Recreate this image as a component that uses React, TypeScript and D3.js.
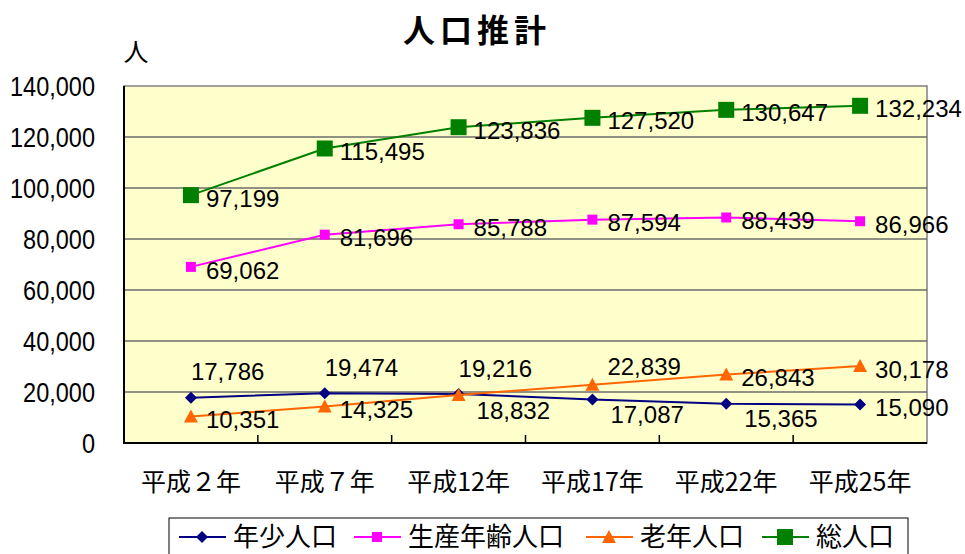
import React, { useRef, useEffect } from 'react';
import * as d3 from 'd3';

const categories = ['平成２年', '平成７年', '平成12年', '平成17年', '平成22年', '平成25年'];
const youth = [17786, 19474, 19216, 17087, 15365, 15090];
const working = [69062, 81696, 85788, 87594, 88439, 86966];
const elderly = [10351, 14325, 18832, 22839, 26843, 30178];
const total = [97199, 115495, 123836, 127520, 130647, 132234];
const yTicks = [0, 20000, 40000, 60000, 80000, 100000, 120000, 140000];

// label placement per point: r = right, a = above, b = below right, u = up right
const youthPlace = ['a', 'a', 'a', 'b', 'b', 'r'];
const elderlyPlace = ['r', 'r', 'b', 'u', 'r', 'r'];

const series = [
  { name: '年少人口', values: youth, color: '#000080', marker: 'diamond', place: youthPlace },
  { name: '生産年齢人口', values: working, color: '#FF00FF', marker: 'square', place: null },
  { name: '老年人口', values: elderly, color: '#FF6600', marker: 'triangle', place: elderlyPlace },
  { name: '総人口', values: total, color: '#008000', marker: 'bigsquare', place: null },
];

const NUM_FONT = '"Liberation Sans", Arial, sans-serif';
const JP_FONT = '"Noto Sans CJK JP", "Noto Sans", sans-serif';

function drawMarker(g, type, x, y, color) {
  if (type === 'diamond') {
    g.append('path')
      .attr('d', `M${x},${y - 6}L${x + 6},${y}L${x},${y + 6}L${x - 6},${y}Z`)
      .attr('fill', color);
  } else if (type === 'square') {
    g.append('rect').attr('x', x - 5).attr('y', y - 5).attr('width', 10).attr('height', 10).attr('fill', color);
  } else if (type === 'bigsquare') {
    g.append('rect').attr('x', x - 8).attr('y', y - 8).attr('width', 16).attr('height', 16).attr('fill', color);
  } else if (type === 'triangle') {
    g.append('path')
      .attr('d', `M${x},${y - 7}L${x + 7},${y + 6}L${x - 7},${y + 6}Z`)
      .attr('fill', color);
  }
}

// number text, optionally squeezed horizontally (axis labels use a narrow face)
function numText(g, x, y, str, size, anchor, sx) {
  g.append('text')
    .attr('transform', `translate(${x},${y}) scale(${sx},1)`)
    .attr('dy', '0.36em')
    .attr('text-anchor', anchor)
    .attr('font-family', NUM_FONT)
    .attr('font-size', size)
    .attr('fill', '#000')
    .text(str);
}

const offsets = {
  r: [15, 3],
  a: [0, -26],
  b: [18, 15],
  u: [15, -18],
};

function PopulationChart() {
  const svgRef = useRef(null);

  useEffect(() => {
    const svg = d3.select(svgRef.current);
    svg.selectAll('*').remove();

    const left = 124;
    const right = 927;
    const top = 86;
    const bottom = 443;

    const xScale = d3.scaleBand().domain(categories).range([left, right]);
    const yScale = d3.scaleLinear().domain([0, 140000]).range([bottom, top]);
    const cx = (c) => xScale(c) + xScale.bandwidth() / 2;
    const fmt = d3.format(',');

    // plot background
    svg.append('rect')
      .attr('x', left).attr('y', top)
      .attr('width', right - left).attr('height', bottom - top)
      .attr('fill', '#FFFFCC')
      .attr('stroke', '#808080')
      .attr('stroke-width', 1.5);

    // grid lines
    svg.append('g')
      .selectAll('line')
      .data(yTicks.filter((t) => t > 0 && t < 140000))
      .enter()
      .append('line')
      .attr('x1', left).attr('x2', right)
      .attr('y1', (d) => yScale(d)).attr('y2', (d) => yScale(d))
      .attr('stroke', '#6b6b6b')
      .attr('stroke-width', 1.5);

    // axes lines
    svg.append('line').attr('x1', left).attr('x2', left).attr('y1', top).attr('y2', bottom + 1)
      .attr('stroke', '#000').attr('stroke-width', 2);
    svg.append('line').attr('x1', left).attr('x2', right).attr('y1', bottom).attr('y2', bottom)
      .attr('stroke', '#000').attr('stroke-width', 2);

    // x ticks between categories (inside)
    const bounds = categories.slice(1).map((c) => xScale(c));
    svg.append('g')
      .selectAll('line')
      .data(bounds)
      .enter()
      .append('line')
      .attr('x1', (d) => d).attr('x2', (d) => d)
      .attr('y1', bottom).attr('y2', bottom - 8)
      .attr('stroke', '#000').attr('stroke-width', 1.5);

    // y tick labels
    const yLab = svg.append('g');
    yTicks.forEach((t) => numText(yLab, 95, yScale(t), fmt(t), 28, 'end', 0.84));

    // x labels
    svg.append('g')
      .selectAll('text')
      .data(categories)
      .enter()
      .append('text')
      .attr('x', (d) => cx(d))
      .attr('y', 491)
      .attr('text-anchor', 'middle')
      .attr('font-family', JP_FONT)
      .attr('font-size', 25)
      .text((d) => d);

    // series
    const line = d3.line().x((d, i) => cx(categories[i])).y((d) => yScale(d));
    series.forEach((s) => {
      svg.append('path')
        .attr('d', line(s.values))
        .attr('fill', 'none')
        .attr('stroke', s.color)
        .attr('stroke-width', 2);
      const g = svg.append('g');
      s.values.forEach((v, i) => drawMarker(g, s.marker, cx(categories[i]), yScale(v), s.color));
    });

    // data labels
    const labels = svg.append('g');
    series.forEach((s) => {
      s.values.forEach((v, i) => {
        const kind = s.place ? s.place[i] : 'r';
        const [dx, dy] = offsets[kind];
        numText(labels, cx(categories[i]) + dx, yScale(v) + dy, fmt(v), 24, 'start', 1);
      });
    });

    // title and unit
    svg.append('text')
      .attr('x', 477).attr('y', 42)
      .attr('text-anchor', 'middle')
      .attr('font-family', JP_FONT)
      .attr('font-size', 32)
      .attr('font-weight', 'bold')
      .attr('letter-spacing', 5)
      .text('人口推計');
    svg.append('text')
      .attr('x', 136).attr('y', 61)
      .attr('text-anchor', 'middle')
      .attr('font-family', JP_FONT)
      .attr('font-size', 25)
      .text('人');

    // legend
    const legend = svg.append('g');
    legend.append('rect')
      .attr('x', 169).attr('y', 518)
      .attr('width', 739).attr('height', 50)
      .attr('fill', '#fff')
      .attr('stroke', '#000')
      .attr('stroke-width', 1);
    const itemX = [179, 354, 586, 762];
    series.forEach((s, i) => {
      const x0 = itemX[i];
      const ly = 537;
      legend.append('line')
        .attr('x1', x0).attr('x2', x0 + 47)
        .attr('y1', ly).attr('y2', ly)
        .attr('stroke', s.color).attr('stroke-width', 2);
      drawMarker(legend, s.marker, x0 + 23, ly, s.color);
      legend.append('text')
        .attr('x', x0 + 54).attr('y', ly)
        .attr('dy', '0.35em')
        .attr('font-family', JP_FONT)
        .attr('font-size', 26)
        .text(s.name);
    });
  }, []);

  return (
    <svg
      ref={svgRef}
      width={965}
      height={554}
      style={{ position: 'absolute', left: 0, top: 0, background: '#fff' }}
    />
  );
}

export default function App() {
  return <PopulationChart />;
}
